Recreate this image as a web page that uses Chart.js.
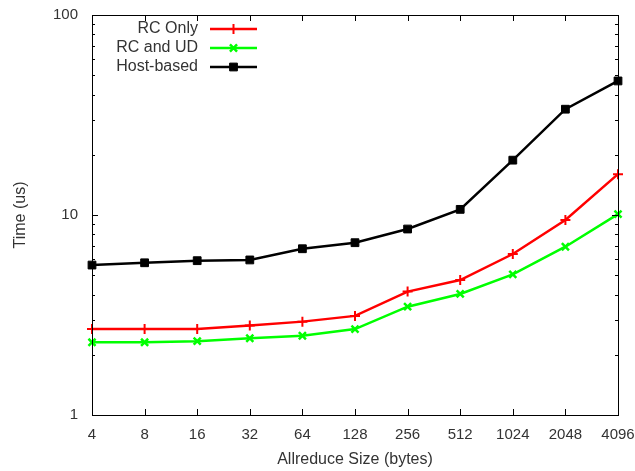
<!DOCTYPE html>
<html>
<head>
<meta charset="utf-8">
<script src="https://cdn.jsdelivr.net/npm/chart.js@4"></script>
<style>
  html, body { margin: 0; padding: 0; background: #fff; }
  #wrap { width: 635px; height: 471px; }
</style>
</head>
<body>
<div id="wrap"><canvas id="chart"></canvas></div>
<script>
// values
const sizes = ["4", "8", "16", "32", "64", "128", "256", "512", "1024", "2048", "4096"];
const rcOnly = [2.69, 2.69, 2.69, 2.80, 2.93, 3.13, 4.14, 4.73, 6.38, 9.44, 16.0];
const rcAndUd = [2.31, 2.31, 2.34, 2.42, 2.49, 2.69, 3.48, 4.03, 5.05, 6.94, 10.1];
const hostBased = [5.62, 5.77, 5.91, 5.96, 6.78, 7.27, 8.51, 10.67, 18.8, 33.8, 46.8];
const yMajorTicks = [1, 10, 100];

const textColor = "#333";
const fontFamily = "'Liberation Sans', Arial, sans-serif";

// every decade gets minor ticks at 2..9
function logTicks() {
  const out = [];
  for (let d = 0; d < yMajorTicks.length - 1; d++) {
    for (let m = 1; m < 10; m++) out.push(yMajorTicks[d] * m);
  }
  out.push(yMajorTicks[yMajorTicks.length - 1]);
  return out;
}

// gnuplot-like frame with inward ticks on all four sides
const framePlugin = {
  id: "frame",
  afterDatasetsDraw(chart) {
    const { ctx, chartArea: a, scales } = chart;
    ctx.save();
    ctx.strokeStyle = "#000";
    ctx.lineWidth = 1;
    ctx.beginPath();
    scales.x.ticks.forEach((t, i) => {
      const px = Math.round(scales.x.getPixelForTick(i)) + 0.5;
      ctx.moveTo(px, a.bottom); ctx.lineTo(px, a.bottom - 6);
      ctx.moveTo(px, a.top); ctx.lineTo(px, a.top + 6);
    });
    scales.y.ticks.forEach((t) => {
      const py = Math.round(scales.y.getPixelForValue(t.value)) + 0.5;
      const len = yMajorTicks.includes(t.value) ? 6 : 3;
      ctx.moveTo(a.left, py); ctx.lineTo(a.left + len, py);
      ctx.moveTo(a.right, py); ctx.lineTo(a.right - len, py);
    });
    ctx.stroke();
    ctx.strokeRect(Math.round(a.left) + 0.5, Math.round(a.top) + 0.5,
      Math.round(a.right - a.left), Math.round(a.bottom - a.top));
    ctx.restore();
  }
};

// legend inside the plot: text right-aligned, sample to its right
const keyPlugin = {
  id: "key",
  afterDraw(chart) {
    const { ctx, chartArea: a } = chart;
    ctx.save();
    ctx.font = "16px " + fontFamily;
    ctx.textAlign = "right";
    ctx.textBaseline = "middle";
    chart.data.datasets.forEach((ds, i) => {
      const y = a.top + 14 + i * 19;
      const tx = a.left + 106;
      ctx.fillStyle = textColor;
      ctx.fillText(ds.label, tx, y);
      ctx.strokeStyle = ds.borderColor;
      ctx.lineWidth = ds.borderWidth;
      ctx.beginPath();
      ctx.moveTo(tx + 12, y); ctx.lineTo(tx + 59, y);
      ctx.stroke();
      ctx.fillStyle = ds.pointBackgroundColor;
      ctx.lineWidth = ds.pointBorderWidth;
      Chart.helpers.drawPoint(ctx, {
        pointStyle: ds.pointStyle, radius: ds.pointRadius, rotation: 0,
        borderWidth: ds.pointBorderWidth
      }, tx + 35.5, y);
    });
    ctx.restore();
  }
};

new Chart(document.getElementById("chart"), {
  type: "line",
  data: {
    labels: sizes,
    datasets: [
      {
        label: "RC Only",
        data: rcOnly,
        borderColor: "#ff0000",
        borderWidth: 2.5,
        pointStyle: "cross",
        pointRadius: 5,
        pointBorderWidth: 2,
        pointBorderColor: "#ff0000",
        pointBackgroundColor: "#ff0000",
      },
      {
        label: "RC and UD",
        data: rcAndUd,
        borderColor: "#00ff00",
        borderWidth: 2.5,
        pointStyle: "crossRot",
        pointRadius: 5,
        pointBorderWidth: 2.5,
        pointBorderColor: "#00ff00",
        pointBackgroundColor: "#00ff00",
      },
      {
        label: "Host-based",
        data: hostBased,
        borderColor: "#000000",
        borderWidth: 2.5,
        pointStyle: "rect",
        pointRadius: 5.5,
        pointBorderWidth: 1,
        pointBorderColor: "#000000",
        pointBackgroundColor: "#000000",
      },
    ],
  },
  options: {
    responsive: true,
    maintainAspectRatio: false,
    animation: false,
    layout: { padding: { left: 0, right: 17, top: 15, bottom: 0 } },
    plugins: { legend: { display: false }, tooltip: { enabled: false } },
    elements: { line: { tension: 0 } },
    scales: {
      x: {
        offset: false,
        grid: { display: false, drawTicks: false },
        border: { display: false },
        ticks: {
          color: textColor, padding: 11, maxRotation: 0, autoSkip: false,
          font: { family: fontFamily, size: 15 }
        },
        title: {
          display: true, text: "Allreduce Size (bytes)", color: textColor,
          font: { family: fontFamily, size: 16 }, padding: { top: 0, bottom: 2 }
        },
        afterFit(s) {
          s.height = 56;
          s.paddingLeft = 0;
          s.paddingRight = 0;
        },
      },
      y: {
        type: "logarithmic",
        min: 1,
        max: 100,
        grid: { display: false, drawTicks: false },
        border: { display: false },
        afterBuildTicks(s) { s.ticks = logTicks().map((v) => ({ value: v })); },
        ticks: {
          color: textColor, padding: 14, autoSkip: false,
          font: { family: fontFamily, size: 15 },
          callback: (v) => (yMajorTicks.includes(v) ? String(v) : ""),
        },
        title: {
          display: true, text: "Time (us)", color: textColor,
          font: { family: fontFamily, size: 16 }, padding: { top: 11, bottom: 0 }
        },
        afterFit(s) {
          s.width = 92;
          s.paddingTop = 0;
          s.paddingBottom = 0;
        },
      },
    },
  },
  plugins: [framePlugin, keyPlugin],
});
</script>
</body>
</html>
